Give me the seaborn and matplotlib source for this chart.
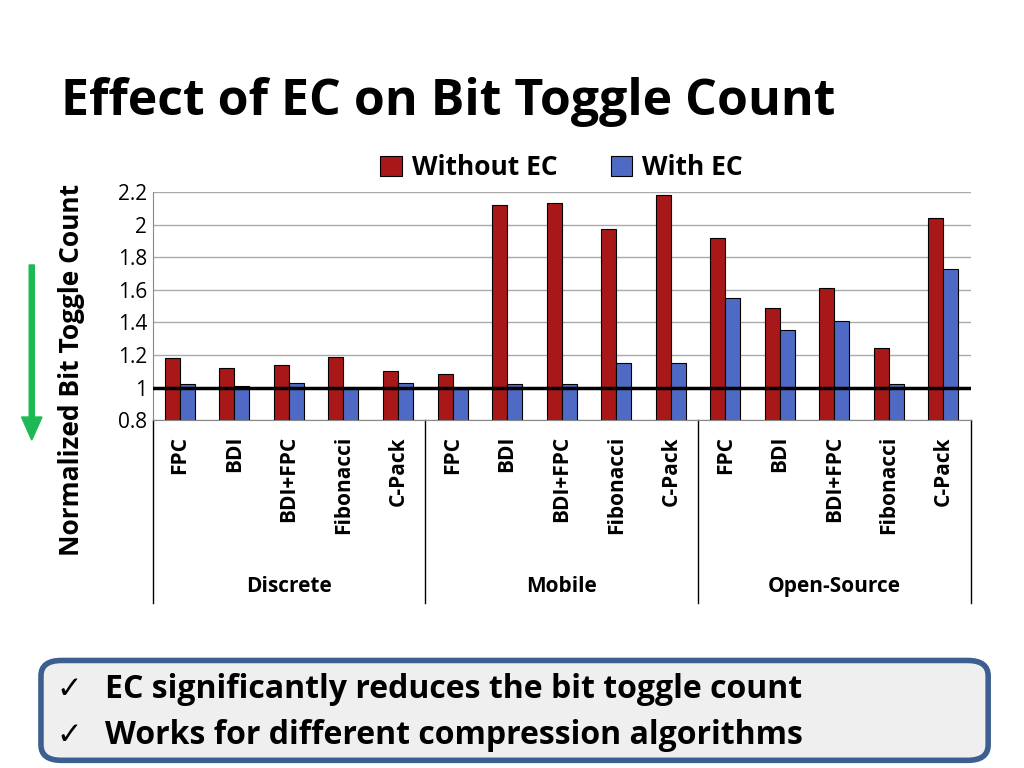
import matplotlib.pyplot as plt
import matplotlib.transforms as mtransforms
from matplotlib.patches import FancyBboxPatch, FancyArrow
import seaborn as sns
import pandas as pd

groups = ['Discrete', 'Mobile', 'Open-Source']
algos = ['FPC', 'BDI', 'BDI+FPC', 'Fibonacci', 'C-Pack']
without_ec = [1.18, 1.12, 1.14, 1.19, 1.10,
              1.08, 2.12, 2.13, 1.97, 2.18,
              1.92, 1.49, 1.61, 1.24, 2.04]
with_ec = [1.02, 1.01, 1.03, 1.00, 1.03,
           0.99, 1.02, 1.02, 1.15, 1.15,
           1.55, 1.35, 1.41, 1.02, 1.73]
y_ticks = [0.8, 1, 1.2, 1.4, 1.6, 1.8, 2, 2.2]

keys = [g + '|' + a for g in groups for a in algos]
df = pd.DataFrame({'key': keys * 2,
                   'value': without_ec + with_ec,
                   'series': ['Without EC'] * len(keys) + ['With EC'] * len(keys)})

plt.rcParams['font.family'] = 'Open Sans'
fig = plt.figure(figsize=(10.24, 7.68), dpi=100)
ax = fig.add_axes([0.149, 0.453, 0.799, 0.297])

sns.barplot(data=df, x='key', y='value', hue='series', order=keys,
            palette={'Without EC': '#C00000', 'With EC': '#3A5FD8'},
            width=0.55, edgecolor='black', linewidth=0.8, ax=ax, zorder=3)

ax.set_ylim(0.8, 2.2)
ax.set_xlim(-0.5, len(keys) - 0.5)
ax.set_yticks(y_ticks)
ax.set_yticklabels(['%g' % t for t in y_ticks], fontsize=15)
ax.yaxis.grid(True, color='#AAAAAA', linewidth=1, zorder=0)
ax.axhline(1, color='black', linewidth=2.5, zorder=4)
ax.set_xticks([])
ax.set_xlabel('')
ax.set_ylabel('Normalized Bit Toggle Count', fontsize=19, fontweight='bold')
ax.yaxis.set_label_coords(-0.083, 0.22)
ax.tick_params(axis='y', length=0, pad=4)
for s in ['top', 'right']:
    ax.spines[s].set_visible(False)
ax.spines['left'].set_color('#888888')
ax.spines['bottom'].set_color('#888888')

trans = mtransforms.blended_transform_factory(ax.transData, ax.transAxes)
for i, k in enumerate(keys):
    ax.text(i, -0.07, k.split('|')[1], transform=trans, rotation=90, ha='center',
            va='top', fontsize=15, fontweight='bold', clip_on=False)
for gi, g in enumerate(groups):
    ax.text(gi * 5 + 2, -0.73, g, transform=trans, ha='center', va='center',
            fontsize=15, fontweight='bold')
for x in [-0.5, 4.5, 9.5, 14.5]:
    ax.plot([x, x], [0, -0.80], transform=trans, color='black', linewidth=1, clip_on=False)

ax.legend(loc='lower center', bbox_to_anchor=(0.5, 0.99), ncol=2, frameon=False,
          prop={'weight': 'bold', 'size': 19}, handlelength=0.8,
          handleheight=0.8, columnspacing=2.0, handletextpad=0.4, borderaxespad=0.1)

fig.text(0.06, 0.85, 'Effect of EC on Bit Toggle Count', fontsize=36, fontweight='bold')
fig.patches.append(FancyArrow(
    0.031, 0.655, 0, -0.228, width=0.005, head_width=0.02, head_length=0.03,
    color='#1DB954', transform=fig.transFigure, length_includes_head=True))

box = FancyBboxPatch((0.04, 0.01), 0.925, 0.13, boxstyle='round,pad=0,rounding_size=0.02',
                     transform=fig.transFigure, facecolor='#EFEFEF', edgecolor='#3B5F8F',
                     linewidth=4)
fig.patches.append(box)
fig.text(0.055, 0.102, '\u2713', fontsize=22, va='center', family='DejaVu Sans')
fig.text(0.103, 0.102, 'EC significantly reduces the bit toggle count', fontsize=23,
         fontweight='bold', va='center')
fig.text(0.055, 0.042, '\u2713', fontsize=22, va='center', family='DejaVu Sans')
fig.text(0.103, 0.042, 'Works for different compression algorithms', fontsize=23,
         fontweight='bold', va='center')

fig.savefig('out.png', dpi=100)
